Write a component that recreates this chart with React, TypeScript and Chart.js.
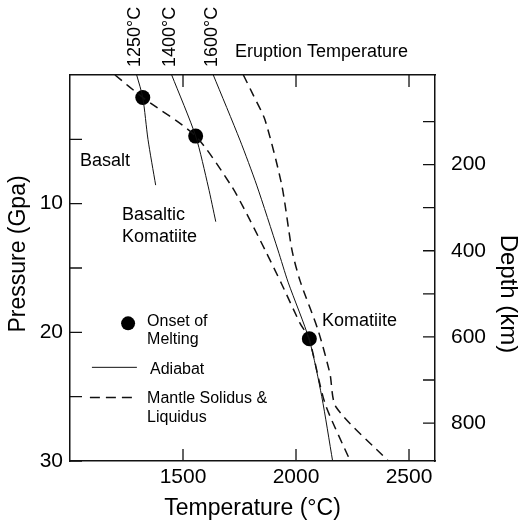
import React, { useEffect, useRef } from "react";
import { Chart, registerables } from "chart.js";

Chart.register(...registerables);

const FONT = "'Liberation Sans', Arial, Helvetica, sans-serif";
const INK = "#111";

// Temperature (°C) / Pressure (GPa)
const adiabat1250T = [1295, 1322, 1345, 1379];
const adiabat1250P = [0, 1.75, 5.0, 8.56];
const adiabat1400T = [1450, 1556, 1612, 1645];
const adiabat1400P = [0, 4.75, 8.7, 11.4];
const adiabat1600T = [1634, 1752, 1826, 1920, 1965, 2059, 2114, 2162];
const adiabat1600P = [0, 5.06, 8.56, 13.6, 16.1, 20.6, 25.0, 30];
const solidusT = [1199, 1322, 1556, 1712, 1766, 1863, 1938, 2018, 2058, 2128, 2240];
const solidusP = [0, 1.75, 4.75, 8.56, 10.25, 13.6, 16.3, 19.3, 20.5, 25.5, 30];
const liquidusT = [1767, 1812, 1863, 1937, 1982, 2018, 2097, 2150, 2177, 2408];
const liquidusP = [0, 1.6, 3.5, 8.56, 13.6, 16.0, 19.8, 23.2, 25.8, 30];
const meltOnsetT = [1322, 1556, 2059];
const meltOnsetP = [1.75, 4.75, 20.5];

const adiabatLabels = ["1250°C", "1400°C", "1600°C"];

// axis ticks
const tempTicks = [1500, 2000, 2500];
const pressureTicks = [5, 10, 15, 20, 25, 30];
const pressureLabels = [10, 20, 30];
const depthTicks = [100, 200, 300, 400, 500, 600, 700, 800];
const depthLabels = [200, 400, 600, 800];

const zip = (xs: number[], ys: number[]) => xs.map((x, i) => ({ x, y: ys[i] }));

const TICK_LEN = 12;

const figurePlugin = {
  id: "figureExtras",
  afterDatasetsDraw(chart: any) {
    const { ctx, chartArea: a, scales } = chart;
    const sx = scales.x;
    const sy = scales.y;
    const sd = scales.yRight;
    const X = (t: number) => sx.getPixelForValue(t);
    const Y = (p: number) => sy.getPixelForValue(p);

    ctx.save();
    // inward ticks
    ctx.strokeStyle = INK;
    ctx.lineWidth = 1.3;
    ctx.beginPath();
    for (const v of tempTicks) {
      const px = X(v);
      ctx.moveTo(px, a.bottom);
      ctx.lineTo(px, a.bottom - TICK_LEN);
      ctx.moveTo(px, a.top);
      ctx.lineTo(px, a.top + TICK_LEN);
    }
    for (const v of pressureTicks) {
      const py = Y(v);
      ctx.moveTo(a.left, py);
      ctx.lineTo(a.left + TICK_LEN, py);
    }
    for (const v of depthTicks) {
      const py = sd.getPixelForValue(v);
      ctx.moveTo(a.right, py);
      ctx.lineTo(a.right - TICK_LEN, py);
    }
    ctx.stroke();

    ctx.fillStyle = "#000";
    // rotated eruption temperature labels above each adiabat
    const tops = [adiabat1250T[0], adiabat1400T[0], adiabat1600T[0]];
    ctx.font = `18px ${FONT}`;
    tops.forEach((t, i) => {
      ctx.save();
      ctx.translate(X(t) - 1.5, a.top - 8);
      ctx.rotate(-Math.PI / 2);
      ctx.textAlign = "left";
      ctx.textBaseline = "middle";
      ctx.fillText(adiabatLabels[i], 0, 0);
      ctx.restore();
    });

    // annotations (data coordinates)
    ctx.textAlign = "left";
    ctx.textBaseline = "middle";
    ctx.font = `18px ${FONT}`;
    ctx.fillText("Eruption Temperature", X(1730), Y(-1.8));
    ctx.fillText("Basalt", X(1044), Y(6.7));
    ctx.fillText("Basaltic", X(1230), Y(10.9));
    ctx.fillText("Komatiite", X(1230), Y(12.6));
    ctx.fillText("Komatiite", X(2115), Y(19.1));

    // legend
    ctx.font = `16px ${FONT}`;
    ctx.beginPath();
    ctx.arc(X(1257), Y(19.3), 7, 0, Math.PI * 2);
    ctx.fill();
    ctx.fillText("Onset of", X(1341), Y(19.14));
    ctx.fillText("Melting", X(1341), Y(20.55));

    ctx.lineWidth = 1;
    ctx.beginPath();
    ctx.moveTo(X(1097), Y(22.72));
    ctx.lineTo(X(1296), Y(22.72));
    ctx.stroke();
    ctx.fillText("Adiabat", X(1354), Y(22.88));

    ctx.lineWidth = 1.5;
    ctx.setLineDash([10, 6]);
    ctx.beginPath();
    ctx.moveTo(X(1088), Y(25.06));
    ctx.lineTo(X(1296), Y(25.06));
    ctx.stroke();
    ctx.setLineDash([]);
    ctx.fillText("Mantle Solidus &", X(1341), Y(25.14));
    ctx.fillText("Liquidus", X(1341), Y(26.6));

    // side axis titles
    const mid = (a.top + a.bottom) / 2;
    ctx.font = `23px ${FONT}`;
    ctx.textAlign = "center";
    ctx.textBaseline = "alphabetic";
    ctx.save();
    ctx.translate(a.left - 45, mid - 14);
    ctx.rotate(-Math.PI / 2);
    ctx.fillText("Pressure (Gpa)", 0, 0);
    ctx.restore();

    ctx.font = `24px ${FONT}`;
    ctx.save();
    ctx.translate(a.right + 66, mid + 26);
    ctx.rotate(Math.PI / 2);
    ctx.fillText("Depth (km)", 0, 0);
    ctx.restore();

    ctx.restore();
  },
};

export default function App() {
  const ref = useRef<HTMLCanvasElement | null>(null);

  useEffect(() => {
    if (!ref.current) return;
    const lineDs = (label: string, xs: number[], ys: number[], dashed: boolean) => ({
      label,
      data: zip(xs, ys),
      showLine: true,
      borderColor: INK,
      borderWidth: dashed ? 1.5 : 1,
      borderDash: dashed ? [9, 6] : [],
      pointRadius: 0,
      tension: 0.25,
      fill: false,
      xAxisID: "x",
      yAxisID: "y",
    });

    const noGrid = { display: false, drawTicks: false };

    const chart = new Chart(ref.current, {
      type: "scatter",
      data: {
        datasets: [
          lineDs("Adiabat 1250°C", adiabat1250T, adiabat1250P, false),
          lineDs("Adiabat 1400°C", adiabat1400T, adiabat1400P, false),
          lineDs("Adiabat 1600°C", adiabat1600T, adiabat1600P, false),
          lineDs("Mantle Solidus", solidusT, solidusP, true),
          lineDs("Liquidus", liquidusT, liquidusP, true),
          {
            label: "Onset of Melting",
            data: zip(meltOnsetT, meltOnsetP),
            showLine: false,
            pointRadius: 7.5,
            pointBackgroundColor: "#000",
            pointBorderWidth: 0,
            xAxisID: "x",
            yAxisID: "y",
          } as any,
        ],
      },
      options: {
        animation: false,
        responsive: false,
        devicePixelRatio: 1,
        layout: { padding: 0 },
        plugins: { legend: { display: false }, tooltip: { enabled: false } },
        scales: {
          x: {
            type: "linear",
            position: "bottom",
            min: 1000,
            max: 2615,
            afterBuildTicks: (s: any) => {
              s.ticks = tempTicks.map((v) => ({ value: v }));
            },
            afterFit: (s: any) => {
              s.height = 64;
            },
            grid: noGrid,
            border: { display: true, color: INK, width: 1.5 },
            ticks: {
              font: { family: FONT, size: 21 },
              color: "#000",
              padding: 4,
              maxRotation: 0,
              autoSkip: false,
              callback: (v: any) => String(v),
            },
            title: {
              display: true,
              text: "Temperature (°C)",
              font: { family: FONT, size: 23 },
              color: "#000",
              padding: { top: 0, bottom: 3 },
            },
          },
          xTop: {
            type: "linear",
            position: "top",
            min: 1000,
            max: 2615,
            afterBuildTicks: (s: any) => {
              s.ticks = tempTicks.map((v) => ({ value: v }));
            },
            afterFit: (s: any) => {
              s.height = 75;
            },
            grid: noGrid,
            border: { display: true, color: INK, width: 1.5 },
            ticks: { display: false },
          },
          y: {
            type: "linear",
            position: "left",
            reverse: true,
            min: 0,
            max: 30,
            afterBuildTicks: (s: any) => {
              s.ticks = pressureTicks.map((v) => ({ value: v }));
            },
            afterFit: (s: any) => {
              s.width = 70;
            },
            grid: noGrid,
            border: { display: true, color: INK, width: 1.5 },
            ticks: {
              font: { family: FONT, size: 21 },
              color: "#000",
              padding: 7,
              autoSkip: false,
              callback: (v: any) => (pressureLabels.includes(Number(v)) ? String(v) : ""),
            },
          },
          yRight: {
            type: "linear",
            position: "right",
            reverse: true,
            min: -8,
            max: 888,
            afterBuildTicks: (s: any) => {
              s.ticks = depthTicks.map((v) => ({ value: v }));
            },
            afterFit: (s: any) => {
              s.width = 85;
            },
            grid: noGrid,
            border: { display: true, color: INK, width: 1.5 },
            ticks: {
              font: { family: FONT, size: 21 },
              color: "#000",
              padding: 16,
              autoSkip: false,
              callback: (v: any) => (depthLabels.includes(Number(v)) ? String(v) : ""),
            },
          },
        },
      } as any,
      plugins: [figurePlugin],
    });
    return () => chart.destroy();
  }, []);

  return (
    <div style={{ position: "fixed", left: 0, top: 0, width: 520, height: 525, background: "#fff" }}>
      <canvas ref={ref} width={520} height={525} style={{ display: "block" }} />
    </div>
  );
}
